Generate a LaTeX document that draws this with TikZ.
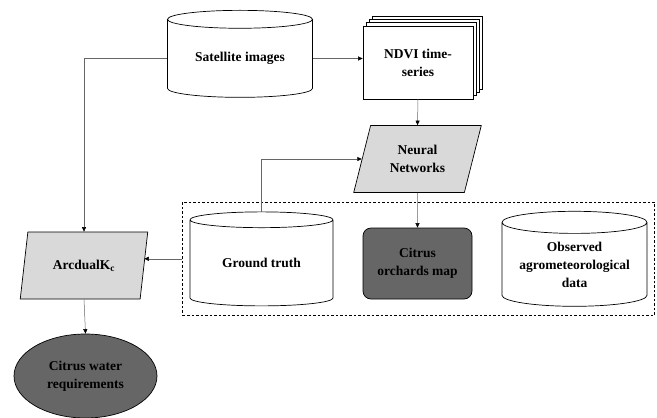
\documentclass[tikz,border=0pt]{standalone}
\usepackage{fontspec}
\setmainfont{Liberation Serif}
\usetikzlibrary{shapes.geometric,shadows,fit,arrows.meta}

\begin{document}
\begin{tikzpicture}[x=1pt,y=-1pt,
  every node/.style={font=\fontsize{13.5}{18}\selectfont\bfseries, align=center, inner sep=0pt},
  base/.style={draw=black, line width=0.7pt},
  drum/.style={base, cylinder, shape border rotate=90, aspect=0.2, fill=white},
  slab/.style={base, trapezium, trapezium left angle=70, trapezium right angle=110,
    trapezium stretches=true, fill=gray!30, minimum width=128pt, minimum height=67pt},
  link/.style={draw=black!60, line width=0.5pt, -{Triangle[length=4.5pt,width=4pt,color=black]}}
]
  \useasboundingbox (0,0) rectangle (657,418);

  % Inputs on top
  \node[drum, minimum width=145pt, minimum height=87pt] (sat) at (240,58.5) {Satellite images};
  \node[base, fill=white, minimum width=110pt, minimum height=73pt,
    copy shadow={shadow xshift=9pt, shadow yshift=10pt},
    copy shadow={shadow xshift=6pt, shadow yshift=6.6pt},
    copy shadow={shadow xshift=3pt, shadow yshift=3.3pt}] (ndvi) at (418,62.5) {NDVI time-\\series};

  % Classification step
  \node[slab] (nn) at (417.5,159) {Neural\\Networks};

  % Data sets inside the dashed frame
  \node[drum, minimum width=143pt, minimum height=94pt] (gt) at (261.5,263) {Ground truth};
  \node[base, fill=black!60, rounded corners=8pt, minimum width=109pt, minimum height=71pt] (cm) at (417.5,263.5) {Citrus\\orchards map};
  \node[drum, minimum width=145pt, minimum height=95pt] (obs) at (574.5,264.5) {Observed\\agrometeorological\\data};
  \node[draw=black, line width=0.7pt, dash pattern=on 2.5pt off 2pt, fit=(gt)(cm)(obs),
    inner xsep=7pt, inner ysep=9pt] (grp) {};

  % Model and result on the left
  \node[slab] (arc) at (84,265.5) {ArcdualK\textsubscript{c}};
  \node[base, ellipse, fill=black!60, minimum width=143pt, minimum height=84pt] (cwr) at (85.5,376) {Citrus water\\requirements};

  % Connectors
  \draw[link] (sat.west) -| (arc.north);
  \draw[link] (sat.east) -- (sat.east -| ndvi.west);
  \draw[link] (ndvi.south) -- (nn.north);
  \draw[link] (nn.south) -- (cm.north);
  \draw[link] (gt.north) |- (nn.west);
  \draw[link] (grp.west) -- (grp.west -| arc.east);
  \draw[link] (arc.south) -- (cwr.north);
\end{tikzpicture}
\end{document}
